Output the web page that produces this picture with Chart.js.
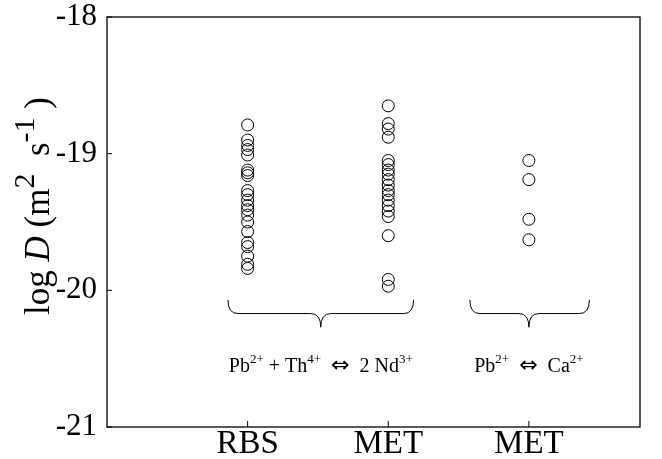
<!DOCTYPE html>
<html lang="en">
<head>
<meta charset="UTF-8">
<title>log D</title>
<script src="https://cdn.jsdelivr.net/npm/chart.js@4.4.1/dist/chart.umd.min.js"></script>
<style>
  html, body { margin: 0; padding: 0; background: #fff; }
  #wrap { width: 662px; height: 459px; }
</style>
</head>
<body>
<div id="wrap"><canvas id="myChart" width="662" height="459"></canvas></div>
<script>
// categories on the x axis
const categories = ['RBS', 'MET', 'MET'];
// log D values, one list per column
const rbsVals = [-18.79, -18.90, -18.94, -18.97, -19.01, -19.12, -19.14, -19.16, -19.27, -19.30,
                 -19.34, -19.38, -19.41, -19.45, -19.50, -19.57, -19.65, -19.68, -19.75, -19.81, -19.84];
const metVals = [-18.65, -18.78, -18.82, -18.88, -19.05, -19.08, -19.12, -19.15, -19.19, -19.23,
                 -19.27, -19.30, -19.34, -19.38, -19.42, -19.46, -19.60, -19.92, -19.97];
const met2Vals = [-19.05, -19.19, -19.48, -19.63];
const yTicks = [-21, -20, -19, -18];

// braces under the groups: [from x, to x, tip x]
const braces = [[0.86, 2.18, 1.52], [2.58, 3.43, 3.0]];

const serif = "'Liberation Serif', 'Times New Roman', serif";

function toPoints(vals, x) {
    return vals.map(v => ({ x: x, y: v }));
}

// draws text with superscripts and italics, pieces = [[text, kind]]
function richText(ctx, pieces, x, y, size, align, supScale) {
    supScale = supScale || 0.66;
    let widths = pieces.map(p => {
        ctx.font = fontFor(p[1], size, supScale);
        return ctx.measureText(p[0]).width;
    });
    let total = widths.reduce((a, b) => a + b, 0);
    let cx = align == 'center' ? x - total / 2 : x;
    ctx.textBaseline = 'alphabetic';
    ctx.textAlign = 'left';
    pieces.forEach((p, i) => {
        ctx.font = fontFor(p[1], size, supScale);
        let dy = p[1] == 'sup' ? -size * 0.42 : 0;
        ctx.fillText(p[0], cx, y + dy);
        cx += widths[i];
    });
}
function fontFor(kind, size, supScale) {
    if (kind == 'sup') return Math.round(size * supScale) + 'px ' + serif;
    if (kind == 'it') return 'italic ' + size + 'px ' + serif;
    if (kind == 'arr') return Math.round(size * 1.1) + "px 'DejaVu Sans'";
    return size + 'px ' + serif;
}

const extras = {
    id: 'extras',
    afterDraw(chart) {
        const ctx = chart.ctx;
        const a = chart.chartArea;
        const xs = chart.scales.x, ys = chart.scales.y;
        ctx.save();
        ctx.strokeStyle = '#000';
        ctx.fillStyle = '#000';
        // box
        ctx.lineWidth = 1.3;
        ctx.strokeRect(a.left, a.top, a.right - a.left, a.bottom - a.top);
        // inward ticks
        ctx.lineWidth = 1;
        ctx.beginPath();
        yTicks.forEach(v => {
            let py = ys.getPixelForValue(v);
            ctx.moveTo(a.left, py); ctx.lineTo(a.left + 5, py);
        });
        categories.forEach((c, i) => {
            let px = xs.getPixelForValue(i + 1);
            ctx.moveTo(px, a.bottom); ctx.lineTo(px, a.bottom - 6);
        });
        ctx.stroke();

        // braces
        const yTop = ys.getPixelForValue(-20.07);
        const yMid = ys.getPixelForValue(-20.17);
        const yTip = ys.getPixelForValue(-20.27);
        braces.forEach(b => {
            let x1 = xs.getPixelForValue(b[0]);
            let x2 = xs.getPixelForValue(b[1]);
            let xc = xs.getPixelForValue(b[2]);
            let r = 10;
            ctx.beginPath();
            ctx.moveTo(x1, yTop);
            ctx.quadraticCurveTo(x1, yMid, x1 + r, yMid);
            ctx.lineTo(xc - r, yMid);
            ctx.quadraticCurveTo(xc, yMid, xc, yTip);
            ctx.quadraticCurveTo(xc, yMid, xc + r, yMid);
            ctx.lineTo(x2 - r, yMid);
            ctx.quadraticCurveTo(x2, yMid, x2, yTop);
            ctx.stroke();
        });

        // reaction labels
        const yText = ys.getPixelForValue(-20.55) + 6;
        richText(ctx, [['Pb', 'n'], ['2+', 'sup'], [' + Th', 'n'], ['4+', 'sup'], ['  ', 'n'], ['\u21D4', 'arr'], ['  2 Nd', 'n'], ['3+', 'sup']],
            xs.getPixelForValue(1.52), yText, 20, 'center');
        richText(ctx, [['Pb', 'n'], ['2+', 'sup'], ['  ', 'n'], ['\u21D4', 'arr'], ['  Ca', 'n'], ['2+', 'sup']],
            xs.getPixelForValue(3.0), yText, 20, 'center');

        // y axis title, starting near the bottom of the axis
        ctx.translate(49, 315);
        ctx.rotate(-Math.PI / 2);
        richText(ctx, [['log ', 'n'], ['D', 'it'], [' (m', 'n'], ['2', 'sup'], ['  s', 'n'], ['-1', 'sup'], [' )', 'n']],
            0, 0, 35, 'left', 0.85);
        ctx.restore();
    }
};

new Chart(document.getElementById('myChart'), {
    type: 'scatter',
    data: {
        datasets: [
            { data: toPoints(rbsVals, 1) },
            { data: toPoints(metVals, 2) },
            { data: toPoints(met2Vals, 3) }
        ]
    },
    options: {
        responsive: false,
        animation: false,
        layout: { padding: { top: 17, right: 22, left: 0, bottom: 0 } },
        elements: {
            point: {
                pointStyle: 'circle',
                radius: 6,
                borderWidth: 1,
                borderColor: '#000',
                backgroundColor: 'rgba(0,0,0,0)'
            }
        },
        plugins: {
            legend: { display: false },
            tooltip: { enabled: false }
        },
        scales: {
            x: {
                type: 'linear',
                min: 0,
                max: 3.79,
                afterBuildTicks: s => { s.ticks = [1, 2, 3].map(v => ({ value: v })); },
                afterFit: s => { s.height = 32; s.paddingLeft = 0; s.paddingRight = 0; },
                grid: { display: false },
                border: { display: false },
                ticks: {
                    padding: -10,
                    maxRotation: 0,
                    color: '#000',
                    font: { family: serif, size: 33 },
                    callback: v => categories[v - 1]
                }
            },
            y: {
                min: -21,
                max: -18,
                afterBuildTicks: s => { s.ticks = yTicks.map(v => ({ value: v })); },
                afterFit: s => { s.width = 107; s.paddingTop = 0; s.paddingBottom = 0; },
                grid: { display: false },
                border: { display: false },
                ticks: {
                    padding: 2,
                    color: '#000',
                    font: { family: serif, size: 31 },
                    callback: v => String(v)
                }
            }
        }
    },
    plugins: [extras]
});
</script>
</body>
</html>
